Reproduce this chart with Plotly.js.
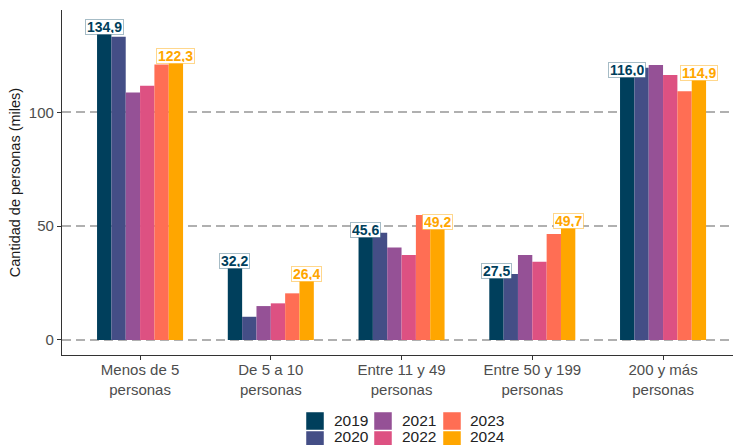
<!DOCTYPE html>
<html>
<head>
<meta charset="utf-8">
<script src="https://cdn.plot.ly/plotly-3.0.1.min.js"></script>
<style>html,body{margin:0;padding:0;background:#fff;}#chart{width:733px;height:445px;}</style>
</head>
<body>
<div id="chart"></div>
<script>
// ---- data ----
const categories = ["Menos de 5<br>personas", "De 5 a 10<br>personas", "Entre 11 y 49<br>personas", "Entre 50 y 199<br>personas", "200 y más<br>personas"];
const years = ["2019", "2020", "2021", "2022", "2023", "2024"];
const v2019 = [134.9, 32.2, 45.6, 27.5, 116.0];
const v2020 = [133.3, 10.2, 47.1, 29.0, 119.6];
const v2021 = [108.8, 14.9, 40.6, 37.3, 120.8];
const v2022 = [111.7, 16.1, 37.3, 34.4, 116.4];
const v2023 = [121.1, 20.5, 54.9, 46.6, 109.3];
const v2024 = [122.3, 26.4, 49.2, 49.7, 114.9];
const colors = ["#003f5c", "#444e86", "#955196", "#dd5182", "#ff6e54", "#ffa600"];
const labelBorders = ["rgba(0,63,92,0.35)", "", "", "", "", "rgba(255,166,0,0.45)"];

const series = [v2019, v2020, v2021, v2022, v2023, v2024];

const W = 733, H = 445, ML = 62, MR = 0, MT = 10, MB = 0;
const plotBottomPx = 355;
const paperW = W - ML - MR, paperH = H - MT - MB;
const pxToPaperX = px => (px - ML) / paperW;
const pyToPaper = py => (H - MB - py) / paperH;
const xRange = [-0.597, 4.535];
const pxPerCat = paperW / (xRange[1] - xRange[0]);

const bargap = 0.342;
const traces = series.map((vals, k) => ({
  type: "bar",
  name: years[k],
  x: categories,
  y: vals,
  marker: {color: colors[k]},
  showlegend: false
}));

// value labels on first and last year
const n = years.length;
const barW = (1 - bargap) / n;
const annotations = [];
[0, n - 1].forEach(k => {
  series[k].forEach((v, i) => {
    annotations.push({
      x: categories[i],
      xshift: (k - (n - 1) / 2) * barW * pxPerCat,
      y: v,
      xref: "x", yref: "y",
      text: "<b>" + v.toFixed(1).replace(".", ",") + "</b>",
      showarrow: false,
      yanchor: "bottom",
      yshift: -2,
      height: 12,
      font: {family: "Liberation Sans, Arial, sans-serif", size: 14, color: colors[k]},
      bgcolor: "#ffffff",
      bordercolor: labelBorders[k],
      borderwidth: 1,
      borderpad: 1
    });
  });
});

// legend: 3 columns x 2 rows, filled column by column
const legSwatchX = [306, 374, 443];
const legTextX = [332, 400, 468];
const legRowTop = [412, 431];
const legTextY = [420, 436];
const swatch = 18;
const shapes = [];
years.forEach((yr, k) => {
  const c = Math.floor(k / 2), r = k % 2;
  shapes.push({
    type: "rect", xref: "paper", yref: "paper", layer: "above",
    x0: pxToPaperX(legSwatchX[c]), x1: pxToPaperX(legSwatchX[c] + swatch),
    y0: pyToPaper(legRowTop[r] + swatch), y1: pyToPaper(legRowTop[r]),
    fillcolor: colors[k], line: {width: 0.8, color: "rgba(255,255,255,0.6)"}
  });
  annotations.push({
    xref: "paper", yref: "paper",
    x: pxToPaperX(legTextX[c]), y: pyToPaper(legTextY[r]),
    xanchor: "left", yanchor: "middle",
    text: yr, showarrow: false,
    font: {family: "Liberation Sans, Arial, sans-serif", size: 15.5, color: "#222222"}
  });
});

const layout = {
  width: W, height: H,
  margin: {l: ML, r: MR, t: MT, b: MB},
  paper_bgcolor: "#ffffff",
  plot_bgcolor: "#ffffff",
  font: {family: "Liberation Sans, Arial, sans-serif", size: 15, color: "#4d4d4d"},
  barmode: "group",
  bargap: bargap,
  bargroupgap: 0,
  showlegend: false,
  xaxis: {
    type: "category",
    range: xRange,
    showgrid: false,
    showline: true, linecolor: "#333333", linewidth: 1.2,
    ticks: "outside", ticklen: 4, tickcolor: "#333333", tickwidth: 1,
    tickfont: {size: 15, color: "#4d4d4d"},
    ticklabelstandoff: -3,
    zeroline: false,
    automargin: false
  },
  yaxis: {
    domain: [pyToPaper(plotBottomPx), 1],
    range: [-6.6, 145],
    tickvals: [0, 50, 100],
    showgrid: true, gridcolor: "#b0b0b0", gridwidth: 1.5, griddash: "9px,5px",
    showline: true, linecolor: "#333333", linewidth: 1.2,
    ticks: "outside", ticklen: 4, tickcolor: "#333333", tickwidth: 1,
    tickfont: {size: 15, color: "#4d4d4d"},
    zeroline: false,
    automargin: false,
    title: {text: "Cantidad de personas (miles)", font: {size: 14.5, color: "#1a1a1a"}, standoff: 4}
  },
  shapes: shapes,
  annotations: annotations
};

Plotly.newPlot("chart", traces, layout, {displayModeBar: false});
</script>
</body>
</html>
